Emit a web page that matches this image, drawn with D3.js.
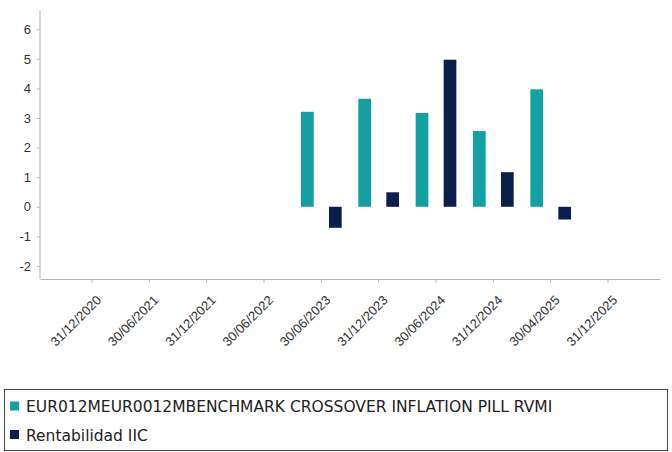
<!DOCTYPE html>
<html>
<head>
<meta charset="utf-8">
<script src="https://cdn.jsdelivr.net/npm/d3@7"></script>
<style>
  body { margin: 0; background: #fff; }
  svg { display: block; font-family: "DejaVu Sans", sans-serif; }
</style>
</head>
<body>
<div id="chart"></div>
<script>
const dates = ["31/12/2020", "30/06/2021", "31/12/2021", "30/06/2022", "30/06/2023",
  "31/12/2023", "30/06/2024", "31/12/2024", "30/04/2025", "31/12/2025"];
const benchmarkValues = [null, null, null, null, 3.21, 3.65, 3.17, 2.56, 3.97, null];
const fundValues = [null, null, null, null, -0.71, 0.49, 4.97, 1.17, -0.43, null];
const seriesNames = ["EUR012MEUR0012MBENCHMARK CROSSOVER INFLATION PILL RVMI", "Rentabilidad IIC"];
const seriesColors = ["#13a0a2", "#0c1f4c"];
const yTicks = [-2, -1, 0, 1, 2, 3, 4, 5, 6];

const width = 672, height = 452;
const dim = { left: 40, right: 660, top: 10, bottom: 279 };

var svg = d3.select("#chart").append("svg")
  .attr("width", width)
  .attr("height", height);

var x0 = d3.scaleBand()
  .domain(dates)
  .range([dim.left, dim.right])
  .paddingInner(0)
  .paddingOuter(0.407);

var x1 = d3.scaleBand()
  .domain([0, 1])
  .range([0, x0.bandwidth()])
  .paddingInner(0.5464)
  .paddingOuter(0.297);

var y = d3.scaleLinear()
  .domain([-2.44, 6.65])
  .range([dim.bottom, dim.top]);

// y axis
var yAxis = svg.append("g")
  .attr("transform", "translate(" + dim.left + ",0)")
  .call(d3.axisLeft(y).tickValues(yTicks).tickSize(3).tickPadding(6)
    .tickFormat(function (d) { return String(d); }));
yAxis.select(".domain").attr("stroke", "#b5b5b5").attr("d", "M0," + dim.top + "V" + dim.bottom);
yAxis.selectAll(".tick line").attr("stroke", "#b5b5b5");
yAxis.selectAll("text").style("font-size", "13px").attr("fill", "#333");

// x axis
var xAxis = svg.append("g")
  .attr("transform", "translate(0," + dim.bottom + ")")
  .call(d3.axisBottom(x0).tickSize(4).tickSizeOuter(0));
xAxis.select(".domain").attr("stroke", "#b5b5b5");
xAxis.selectAll(".tick line").attr("stroke", "#b5b5b5");
xAxis.selectAll("text")
  .attr("x", 0).attr("y", 0).attr("dy", 0)
  .attr("text-anchor", "end")
  .attr("transform", "translate(10,22) rotate(-45)")
  .style("font-size", "13px")
  .attr("fill", "#333");

// bars
var rows = dates.map(function (d, i) {
  return { date: d, values: [benchmarkValues[i], fundValues[i]] };
});

var groups = svg.selectAll(".group")
  .data(rows)
  .enter()
  .append("g")
  .attr("transform", function (d) { return "translate(" + x0(d.date) + ",0)"; });

groups.selectAll("rect")
  .data(function (d) {
    return d.values.map(function (v, k) { return { k: k, v: v }; })
      .filter(function (e) { return e.v !== null; });
  })
  .enter()
  .append("rect")
  .attr("x", function (d) { return x1(d.k); })
  .attr("width", x1.bandwidth())
  .attr("y", function (d) { return y(Math.max(0, d.v)); })
  .attr("height", function (d) { return Math.abs(y(d.v) - y(0)); })
  .attr("fill", function (d) { return seriesColors[d.k]; });

// legend
var legend = svg.append("g");
legend.append("rect")
  .attr("x", 4.5).attr("y", 389.5)
  .attr("width", 663).attr("height", 61)
  .attr("fill", "none")
  .attr("stroke", "#444");

seriesNames.forEach(function (name, i) {
  var ly = 412 + i * 28.5;
  legend.append("rect")
    .attr("x", 10).attr("y", ly - 10.5)
    .attr("width", 9).attr("height", 9)
    .attr("fill", seriesColors[i]);
  legend.append("text")
    .attr("x", 26).attr("y", ly)
    .style("font-size", "15.5px")
    .attr("fill", "#222")
    .text(name);
});
</script>
</body>
</html>
